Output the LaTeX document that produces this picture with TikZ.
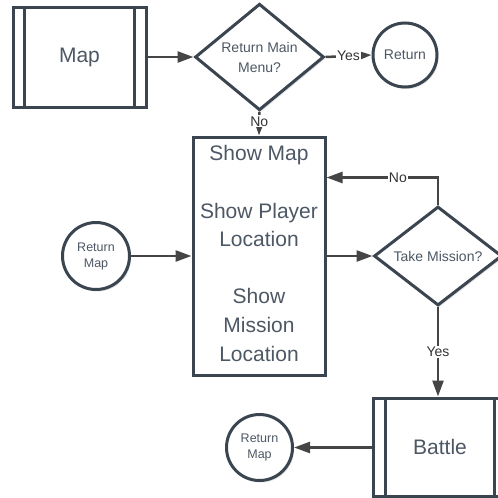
\documentclass[tikz,border=0pt]{standalone}
\usepackage{fontspec}
\setmainfont{Liberation Sans}
\usetikzlibrary{shapes.geometric,arrows.meta,shadows}
\definecolor{shapeline}{HTML}{3A4550}
\definecolor{txtcol}{HTML}{4D5864}
\definecolor{arrcol}{HTML}{454545}
\definecolor{lblcol}{HTML}{333333}
\tikzset{
  softshadow/.style={drop shadow={opacity=0.12, shadow xshift=1.5pt, shadow yshift=-2pt, fill=black}},
  procbox/.style={draw=shapeline, line width=3pt, fill=white, softshadow, text=txtcol, font=\fontsize{21}{25}\selectfont, inner sep=0pt},
  decide/.style={diamond, draw=shapeline, line width=3pt, fill=white, softshadow, text=txtcol, font=\fontsize{14}{20}\selectfont, align=center, inner sep=0pt},
  term/.style={circle, draw=shapeline, line width=3pt, fill=white, softshadow, text=txtcol, align=center, inner sep=0pt},
  barline/.style={draw=shapeline, line width=3pt},
  flow/.style={draw=arrcol, line width=2.5pt, -{Triangle[length=16pt,width=11pt]}},
  lbl/.style={fill=white, inner sep=1pt, text=lblcol, font=\fontsize{14}{16}\selectfont},
}
\begin{document}
\begin{tikzpicture}[x=1pt,y=-1pt]
\useasboundingbox (0,0) rectangle (498,498);
\clip (0,0) rectangle (498,498);
% nodes
\node[procbox, minimum width=133pt, minimum height=100pt] (map) at (79.5,57) {Map};
\draw[barline] ([xshift=13pt]map.north west) -- ([xshift=13pt]map.south west);
\draw[barline] ([xshift=-13pt]map.north east) -- ([xshift=-13pt]map.south east);

\node[decide, minimum width=129pt, minimum height=101pt] (q1) at (259.5,57) {Return Main\\Menu?};
\node[term, minimum size=64pt, font=\fontsize{14}{16}\selectfont] (ret) at (405,55) {Return};

\node[procbox, minimum width=132pt, minimum height=238pt] (box) at (259,256) {};
\node[text=txtcol, align=center, inner sep=0pt, font=\fontsize{21}{28.6}\selectfont] (boxtext) at (259,253.5) {Show Map\\[28.6pt]Show Player\\Location\\[28.6pt]Show\\Mission\\Location};

\node[term, minimum size=67pt, font=\fontsize{12.5}{16}\selectfont] (rm1) at (96,256) {Return\\Map};

\node[decide, minimum width=128pt, minimum height=96pt] (q2) at (438,256) {Take Mission?};

\node[procbox, minimum width=134pt, minimum height=98pt] (battle) at (440,447) {Battle};
\draw[barline] ([xshift=14pt]battle.north west) -- ([xshift=14pt]battle.south west);
\draw[barline] ([xshift=-14pt]battle.north east) -- ([xshift=-14pt]battle.south east);

\node[term, minimum size=66pt, font=\fontsize{12.5}{16}\selectfont] (rm2) at (259.5,447.5) {Return\\Map};

\coordinate (noend) at ([yshift=-42pt]box.north east);

% connectors
\draw[flow] (map) -- (q1);
\draw[flow] (q1.east) -- node[lbl] {Yes} (ret.west);
\draw[flow] (q1.south) -- node[lbl, pos=0.4] {No} (box.north);
\draw[flow] (rm1) -- (box.west);
\draw[flow] (box.east) -- (q2.west);
\draw[flow] (q2.north) |- node[lbl, pos=0.68] {No} (noend);
\draw[flow] (q2.south) -- node[lbl] {Yes} (q2.south |- battle.north);
\draw[flow] (battle.west |- rm2.east) -- (rm2.east);
\end{tikzpicture}
\end{document}
